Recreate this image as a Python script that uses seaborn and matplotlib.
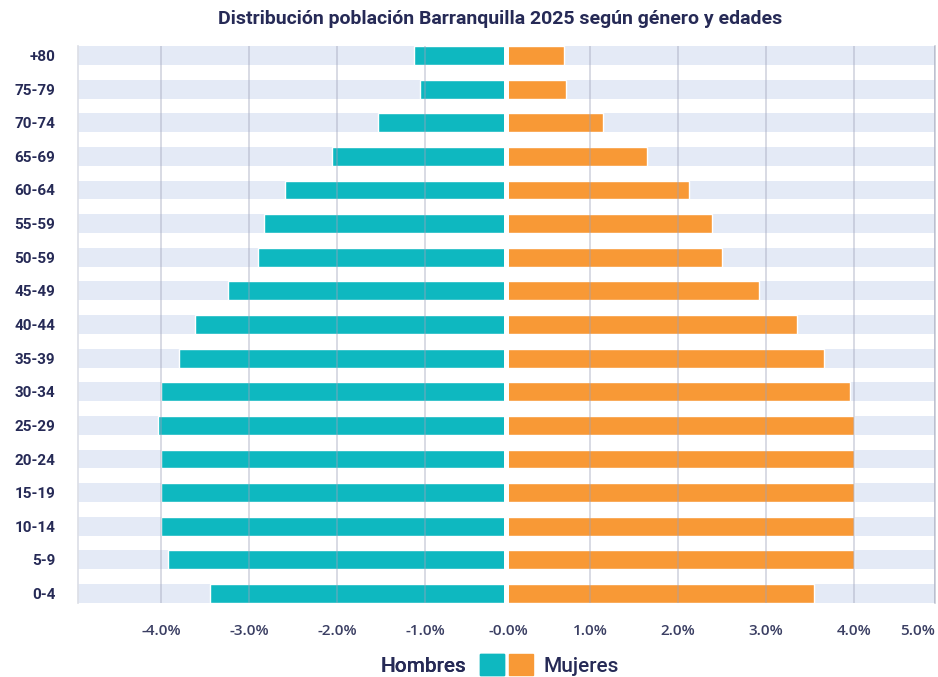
import numpy as np
import pandas as pd
import seaborn as sns
import matplotlib.pyplot as plt
from matplotlib.patches import Patch

# Datos: grupos de edad y porcentaje de población por género
edades = ["+80", "75-79", "70-74", "65-69", "60-64", "55-59", "50-59", "45-49",
          "40-44", "35-39", "30-34", "25-29", "20-24", "15-19", "10-14", "5-9", "0-4"]
hombres = [1.13, 1.06, 1.54, 2.06, 2.59, 2.83, 2.90, 3.24, 3.61, 3.80,
           4.00, 4.03, 4.00, 4.00, 4.00, 3.92, 3.45]
mujeres = [0.70, 0.72, 1.14, 1.64, 2.12, 2.39, 2.50, 2.92, 3.35, 3.66,
           3.95, 4.00, 4.00, 4.00, 4.00, 4.00, 3.54]
ticks_h = [-4, -3, -2, -1]
ticks_m = [1, 2, 3, 4]

df = pd.DataFrame({"edad": edades, "hombres": hombres, "mujeres": mujeres})

TEAL = "#0eb8c0"
NARANJA = "#f89936"
FRANJA = "#e4eaf6"
TEXTO = "#262a56"
GRID = "#9ea3ba"
ALTO = 0.565

sns.set_style("white")
plt.rcParams["font.family"] = ["Roboto", "DejaVu Sans"]

fig = plt.figure(figsize=(9.38, 6.77), dpi=100)
W, H = 938, 677
y0, y1 = (H - 603) / H, 557 / H
ax_h = fig.add_axes([77.5 / W, y0, (503.5 - 77.5) / W, y1])
ax_m = fig.add_axes([508.7 / W, y0, (935 - 508.7) / W, y1])

# Hombres (lado izquierdo, valores negativos)
sns.barplot(x=-df["hombres"], y=df["edad"], orient="h", color=TEAL,
            saturation=1, width=ALTO, ax=ax_h)
# Mujeres (lado derecho)
sns.barplot(x=df["mujeres"], y=df["edad"], orient="h", color=NARANJA,
            saturation=1, width=ALTO, ax=ax_m)

ax_h.set_xlim(-4.95, -0.11)
ax_m.set_xlim(0.073, 4.92)

for ax in (ax_h, ax_m):
    for i in range(len(edades)):
        ax.axhspan(i - ALTO / 2, i + ALTO / 2, color=FRANJA, zorder=0, lw=0)
    ax.set_ylim(len(edades) - 1 + ALTO / 2, -ALTO / 2)
    ax.set_xlabel("")
    ax.set_ylabel("")
    ax.set_axisbelow(False)
    ax.grid(axis="x", color=GRID, lw=1.1, alpha=0.5)
    ax.grid(axis="y", visible=False)
    for s in ax.spines.values():
        s.set_visible(False)
    ax.tick_params(axis="both", length=0)

ax_h.spines["left"].set_visible(True)
ax_h.spines["left"].set_color("#dcdee6")
ax_h.spines["left"].set_linewidth(1.2)
ax_m.spines["right"].set_visible(True)
ax_m.spines["right"].set_color("#c9ccd8")
ax_m.spines["right"].set_linewidth(1.2)

ax_h.set_xticks(ticks_h)
ax_h.set_xticklabels([f"{t:.1f}%" for t in ticks_h])
ax_m.set_xticks(ticks_m + [4.92])
ax_m.set_xticklabels([f"{t:.1f}%" for t in ticks_m] + ["5.0%"])
ax_m.get_xticklabels()[-1].set_ha("right")
ax_m.set_yticks([])

for ax in (ax_h, ax_m):
    ax.tick_params(axis="x", pad=15, labelsize=11, labelcolor="#3b3f63")
    for lab in ax.get_xticklabels():
        lab.set_family(["Open Sans", "DejaVu Sans"])
        lab.set_fontweight("semibold")
ax_h.tick_params(axis="y", pad=16, labelsize=11, labelcolor=TEXTO)
for lab in ax_h.get_yticklabels():
    lab.set_fontweight("bold")

fig.text(508 / W, (H - 631) / H, "-0.0%", ha="center", va="center",
         fontsize=11, fontweight="semibold", color="#3b3f63",
         family=["Open Sans", "DejaVu Sans"])

fig.text(500 / W, (H - 19) / H,
         "Distribución población Barranquilla 2025 según género y edades",
         ha="center", va="center", fontsize=14, fontweight="bold", color=TEXTO)

# Leyenda: "Hombres [■] [■] Mujeres"
fs = 15
ly = (H - 665) / H
leg1 = fig.legend(handles=[Patch(color=TEAL)], labels=["Hombres"], loc="center right",
                  bbox_to_anchor=(503.5 / W, ly), markerfirst=False, frameon=False,
                  handlelength=1.15, handleheight=1.15, handletextpad=0.65,
                  borderpad=0, borderaxespad=0, labelcolor=TEXTO,
                  prop={"size": fs, "weight": "medium"})
fig.legend(handles=[Patch(color=NARANJA)], labels=["Mujeres"], loc="center left",
           bbox_to_anchor=(508.7 / W, ly), markerfirst=True, frameon=False,
           handlelength=1.15, handleheight=1.15, handletextpad=0.5,
           borderpad=0, borderaxespad=0, labelcolor=TEXTO,
           prop={"size": fs, "weight": "medium"})
fig.add_artist(leg1)

fig.savefig("out.png", dpi=100)
